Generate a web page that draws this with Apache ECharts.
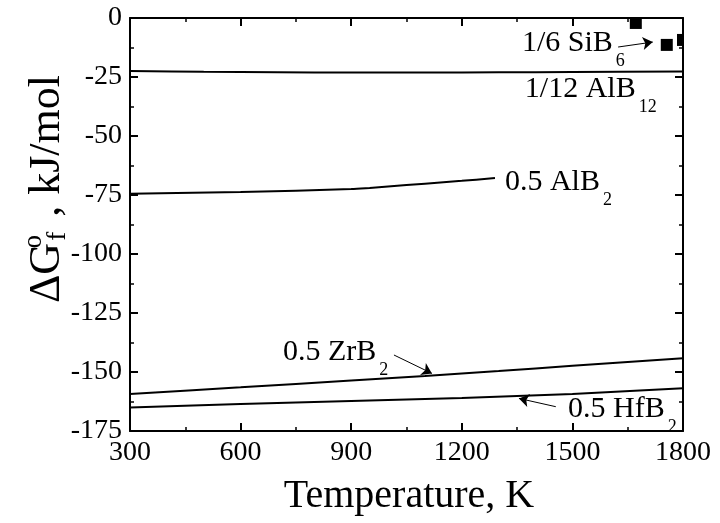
<!DOCTYPE html>
<html><head><meta charset="utf-8">
<script src="https://cdn.jsdelivr.net/npm/echarts@6/dist/echarts.min.js"></script>
<style>html,body{margin:0;padding:0;background:#fff}#c{width:720px;height:523px}</style>
</head><body><div id="c"></div>
<script>
// ---- data ----
const xTicks = [300, 600, 900, 1200, 1500, 1800];
const yTicks = [-175, -150, -125, -100, -75, -50, -25, 0];

const tAlB12 = [300, 500, 700, 900, 1100, 1300, 1500, 1800];
const gAlB12 = [-22.5, -22.8, -23.0, -23.1, -23.1, -23.0, -22.9, -22.7];

const tAlB2 = [300, 600, 900, 950, 1000, 1100, 1200, 1290];
const gAlB2 = [-74.5, -73.7, -72.5, -72.0, -71.4, -70.2, -69.0, -67.8];

const tZrB2 = [300, 600, 900, 1100, 1300, 1500, 1800];
const gZrB2 = [-159.3, -156.5, -153.6, -151.7, -149.6, -147.4, -144.2];

const tHfB2 = [300, 600, 900, 1200, 1500, 1800];
const gHfB2 = [-165.0, -163.6, -162.3, -161.0, -159.3, -156.9];

const tSiB6 = [1672, 1756, 1800];
const gSiB6 = [-2.1, -11.4, -9.3];

// annotation anchors (data coords: left edge, text middle)
const labels = [
  {main: '1/6 SiB', sub: '6', at: [1363, -10.6]},
  {main: '1/12 AlB', sub: '12', at: [1371, -30.1]},
  {main: '0.5 AlB', sub: '2', at: [1317, -69.5]},
  {main: '0.5 ZrB', sub: '2', at: [715, -141.5]},
  {main: '0.5 HfB', sub: '2', at: [1488, -165.7]}
];
const arrows = [
  [[1624, -12.3], [1718, -10.2]],
  [[1016, -142.8], [1119, -150.6]],
  [[1455, -164.7], [1355, -161.2]]
];

const FONT = 'Liberation Serif';
const zip = (a, b) => a.map((v, i) => [v, b[i]]);

const chart = echarts.init(document.getElementById('c'), null, {renderer: 'canvas'});

const axisCommon = {
  axisLine: {show: true, onZero: false, lineStyle: {color: '#000', width: 2}},
  axisTick: {show: true, inside: true, length: 8, lineStyle: {color: '#000', width: 2}},
  minorTick: {show: true, splitNumber: 2, length: 4, lineStyle: {color: '#000', width: 1.5}},
  splitLine: {show: false}
};

const lineSeries = (name, t, g) => ({
  name, type: 'line', data: zip(t, g), showSymbol: false, symbol: 'none',
  lineStyle: {color: '#000', width: 2}, smooth: 0.3, z: 3, animation: false
});

chart.setOption({
  animation: false,
  backgroundColor: '#fff',
  grid: {left: 130, right: 37, top: 18, bottom: 92, containLabel: false},
  xAxis: [
    Object.assign({type: 'value', min: 300, max: 1800, interval: 300, position: 'bottom',
      axisLabel: {color: '#000', fontFamily: FONT, fontSize: 28, margin: 8, formatter: v => String(v)}}, axisCommon),
    Object.assign({type: 'value', min: 300, max: 1800, interval: 300, position: 'top',
      axisLabel: {show: false}}, axisCommon)
  ],
  yAxis: [
    Object.assign({type: 'value', min: -175, max: 0, interval: 25, position: 'left',
      axisLabel: {color: '#000', fontFamily: FONT, fontSize: 28, margin: 8, formatter: v => String(v)}}, axisCommon),
    Object.assign({type: 'value', min: -175, max: 0, interval: 25, position: 'right',
      axisLabel: {show: false}}, axisCommon)
  ],
  series: [
    lineSeries('1/12 AlB12', tAlB12, gAlB12),
    lineSeries('0.5 AlB2', tAlB2, gAlB2),
    lineSeries('0.5 ZrB2', tZrB2, gZrB2),
    lineSeries('0.5 HfB2', tHfB2, gHfB2),
    {
      name: 'arrows', type: 'lines', coordinateSystem: 'cartesian2d', z: 5, silent: true,
      symbol: ['none', 'arrow'], symbolSize: 10,
      lineStyle: {color: '#000', width: 1, opacity: 1, curveness: 0},
      itemStyle: {color: '#000'},
      data: arrows.map(a => ({coords: a}))
    },
    {
      name: '1/6 SiB6', type: 'custom', clip: true, z: 4,
      data: zip(tSiB6, gSiB6),
      renderItem: (params, api) => {
        const p = api.coord([api.value(0), api.value(1)]);
        const s = 12;
        return {type: 'rect', shape: {x: p[0] - s / 2, y: p[1] - s / 2, width: s, height: s},
          style: {fill: '#000'}};
      }
    }
  ]
});

function drawText() {
  const els = labels.map(l => {
    const p = chart.convertToPixel({gridIndex: 0}, l.at);
    return {
      type: 'text', x: p[0], y: p[1], z: 10,
      style: {
        text: '{m|' + l.main + '}{s|' + l.sub + '}',
        fill: '#000', textAlign: 'left', textVerticalAlign: 'middle',
        rich: {
          m: {fontSize: 30, fontFamily: FONT, fill: '#000', padding: [36, 0, 36, 0]},
          s: {fontSize: 18, fontFamily: FONT, fill: '#000', padding: [36, 0, 0, 3]}
        }
      }
    };
  });
  els.push({
    type: 'text', x: 409, y: 516, z: 10,
    style: {text: 'Temperature, K', font: '40px "' + FONT + '"', fill: '#000',
      textAlign: 'center', textVerticalAlign: 'bottom'}
  });
  els.push({
    type: 'text', x: 47, y: 189, rotation: Math.PI / 2, z: 10,
    style: {
      text: '{a|ΔG}{o|o}{f|f}{a| , kJ/mol}',
      fill: '#000', textAlign: 'center', textVerticalAlign: 'middle',
      rich: {
        a: {fontSize: 44, fontFamily: FONT, fill: '#000'},
        o: {fontSize: 27, fontFamily: FONT, fill: '#000', width: 2, padding: [0, 0, 26, 0]},
        f: {fontSize: 27, fontFamily: FONT, fill: '#000', padding: [22, 4, 0, 0]}
      }
    }
  });
  chart.setOption({graphic: els});
}
drawText();
</script>
</body></html>
